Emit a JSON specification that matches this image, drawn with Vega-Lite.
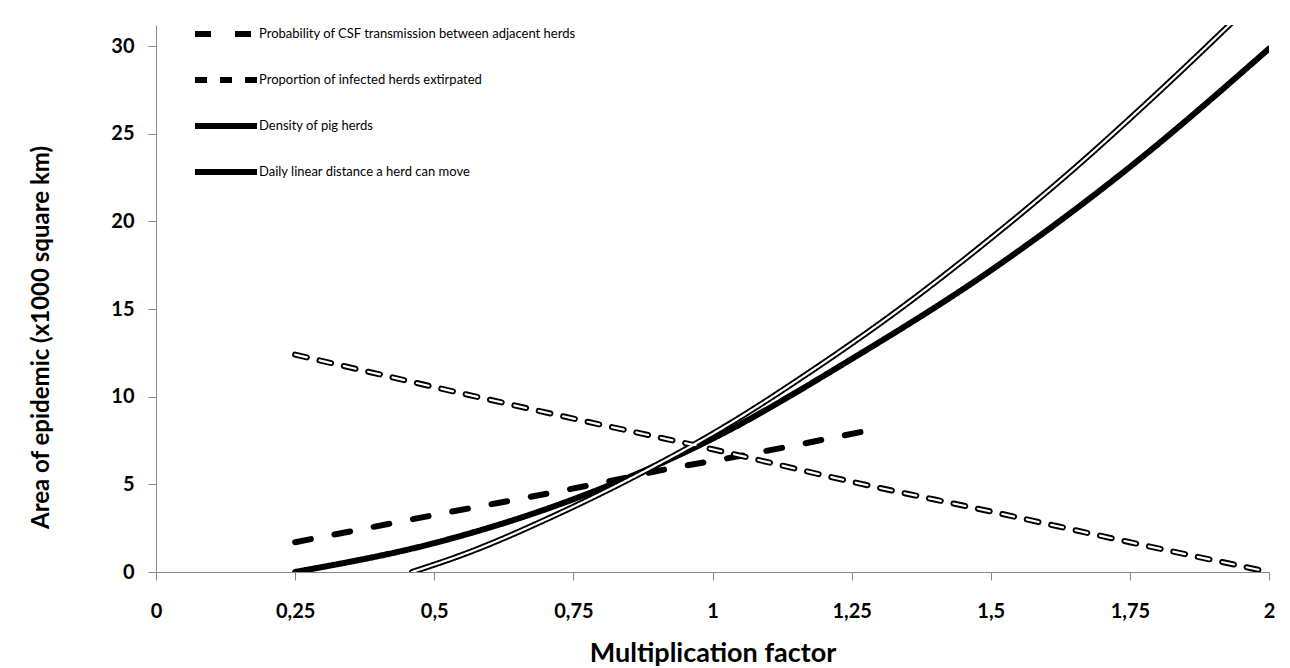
{
  "$schema": "https://vega.github.io/schema/vega-lite/v6.json",
  "width": 1113,
  "height": 547,
  "autosize": {"type": "none"},
  "padding": {"left": 156, "top": 25, "right": 21, "bottom": 96},
  "background": "white",
  "config": {
    "view": {"stroke": null},
    "font": "Lato"
  },
  "data": {
    "values": [
      {"s": "Probability of CSF transmission between adjacent herds", "x": 0.25, "y": 1.7},
      {"s": "Probability of CSF transmission between adjacent herds", "x": 0.5, "y": 3.25},
      {"s": "Probability of CSF transmission between adjacent herds", "x": 0.81, "y": 5.15},
      {"s": "Probability of CSF transmission between adjacent herds", "x": 0.894, "y": 5.72},
      {"s": "Probability of CSF transmission between adjacent herds", "x": 1.043, "y": 6.58},
      {"s": "Probability of CSF transmission between adjacent herds", "x": 1.3, "y": 8.2},
      {"s": "Proportion of infected herds extirpated", "x": 0.25, "y": 12.4},
      {"s": "Proportion of infected herds extirpated", "x": 0.5, "y": 10.55},
      {"s": "Proportion of infected herds extirpated", "x": 0.75, "y": 8.75},
      {"s": "Proportion of infected herds extirpated", "x": 1.0, "y": 7.0},
      {"s": "Proportion of infected herds extirpated", "x": 1.25, "y": 5.15},
      {"s": "Proportion of infected herds extirpated", "x": 1.5, "y": 3.45},
      {"s": "Proportion of infected herds extirpated", "x": 1.75, "y": 1.7},
      {"s": "Proportion of infected herds extirpated", "x": 2.0, "y": 0},
      {"s": "Density of pig herds", "x": 0.25, "y": 0},
      {"s": "Density of pig herds", "x": 0.5, "y": 1.65},
      {"s": "Density of pig herds", "x": 0.75, "y": 4.15},
      {"s": "Density of pig herds", "x": 1.0, "y": 7.6},
      {"s": "Density of pig herds", "x": 1.25, "y": 12.15},
      {"s": "Density of pig herds", "x": 1.5, "y": 17.2},
      {"s": "Density of pig herds", "x": 1.75, "y": 23.1},
      {"s": "Density of pig herds", "x": 2.0, "y": 29.85},
      {"s": "Daily linear distance a herd can move", "x": 0.46, "y": 0},
      {"s": "Daily linear distance a herd can move", "x": 0.558, "y": 1.07},
      {"s": "Daily linear distance a herd can move", "x": 0.714, "y": 3.19},
      {"s": "Daily linear distance a herd can move", "x": 0.869, "y": 5.6},
      {"s": "Daily linear distance a herd can move", "x": 1.0225, "y": 8.3},
      {"s": "Daily linear distance a herd can move", "x": 1.176, "y": 11.43},
      {"s": "Daily linear distance a herd can move", "x": 1.33, "y": 14.85},
      {"s": "Daily linear distance a herd can move", "x": 1.485, "y": 18.65},
      {"s": "Daily linear distance a herd can move", "x": 1.64, "y": 22.74},
      {"s": "Daily linear distance a herd can move", "x": 1.794, "y": 27.15},
      {"s": "Daily linear distance a herd can move", "x": 1.95, "y": 31.85}
    ]
  },
  "encoding": {
    "x": {
      "field": "x", "type": "quantitative",
      "scale": {"domain": [0, 2], "nice": false, "zero": false},
      "axis": {
        "values": [0, 0.25, 0.5, 0.75, 1, 1.25, 1.5, 1.75, 2],
        "labelExpr": "replace(toString(datum.value), '.', ',')",
        "labelFont": "Lato", "labelFontWeight": "bold", "labelFontSize": 20, "labelColor": "black",
        "labelPadding": 21, "tickSize": 8, "tickColor": "#888888", "domainColor": "#888888",
        "grid": false, "labelFlush": false,
        "title": "Multiplication factor", "titleFont": "Lato", "titleFontSize": 27, "titleFontWeight": "bold",
        "titleColor": "black", "titlePadding": 19
      }
    },
    "y": {
      "field": "y", "type": "quantitative",
      "scale": {"domain": [0, 31.2], "nice": false},
      "axis": {
        "values": [0, 5, 10, 15, 20, 25, 30],
        "labelFont": "Lato", "labelFontWeight": "bold", "labelFontSize": 20, "labelColor": "black",
        "labelPadding": 14, "tickSize": 8, "tickColor": "#888888", "domainColor": "#888888",
        "grid": false, "labelFlush": false,
        "title": "Area of epidemic (x1000 square km)", "titleFont": "Lato", "titleFontSize": 24, "titleFontWeight": "bold",
        "titleColor": "black", "titlePadding": 57, "titleY": 312
      }
    }
  },
  "layer": [
    {
      "mark": {"type": "line", "clip": true, "strokeCap": "round", "interpolate": "monotone", "strokeWidth": 6},
      "encoding": {
        "color": {
          "field": "s", "type": "nominal",
          "scale": {"domain": ["Probability of CSF transmission between adjacent herds", "Proportion of infected herds extirpated", "Density of pig herds", "Daily linear distance a herd can move"], "range": ["black", "black", "black", "black"]},
          "legend": {"orient": "none", "legendX": 36, "legendY": -25, "title": null, "symbolType": "stroke", "symbolSize": 3844, "symbolStrokeWidth": 6, "rowPadding": -10, "labelFont": "Lato", "labelFontSize": 13, "labelColor": "black", "labelOffset": -1, "padding": 0, "labelLimit": 500}
        },
        "strokeDash": {
          "field": "s", "type": "nominal",
          "scale": {"domain": ["Probability of CSF transmission between adjacent herds", "Proportion of infected herds extirpated", "Density of pig herds", "Daily linear distance a herd can move"], "range": [[16, 24], [12, 13], [1, 0], [1, 0]]},
          "legend": {"orient": "none", "legendX": 36, "legendY": -25, "title": null, "symbolType": "stroke", "symbolSize": 3844, "symbolStrokeWidth": 6, "rowPadding": -10, "labelFont": "Lato", "labelFontSize": 13, "labelColor": "black", "labelOffset": -1, "padding": 0, "labelLimit": 500}
        }
      }
    },
    {
      "mark": {"type": "line", "clip": true, "strokeCap": "round", "interpolate": "monotone", "strokeWidth": 2.2},
      "encoding": {
        "color": {
          "field": "s", "type": "nominal",
          "scale": {"domain": ["Probability of CSF transmission between adjacent herds", "Proportion of infected herds extirpated", "Density of pig herds", "Daily linear distance a herd can move"], "range": ["black", "white", "black", "white"]},
          "legend": null
        },
        "strokeDash": {
          "field": "s", "type": "nominal",
          "scale": {"domain": ["Probability of CSF transmission between adjacent herds", "Proportion of infected herds extirpated", "Density of pig herds", "Daily linear distance a herd can move"], "range": [[16, 24], [12, 13], [1, 0], [1, 0]]},
          "legend": null
        }
      }
    }
  ],
  "resolve": {
    "scale": {"color": "independent", "strokeDash": "independent"},
    "legend": {"color": "independent", "strokeDash": "independent"}
  }
}
